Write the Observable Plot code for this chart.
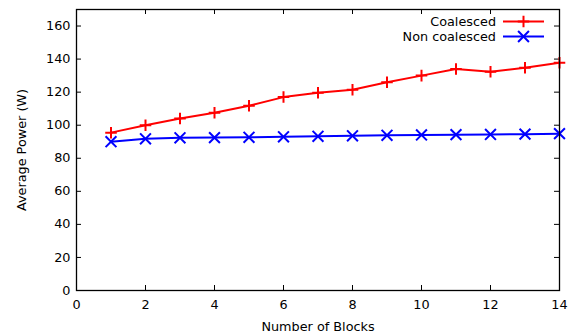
<!DOCTYPE html>
<html>
<head>
<meta charset="utf-8">
<script src="https://cdn.jsdelivr.net/npm/d3@7"></script>
<script src="https://cdn.jsdelivr.net/npm/@observablehq/plot@0.6"></script>
<style>
  html, body { margin: 0; padding: 0; background: #fff; }
  #wrap { position: relative; width: 572px; height: 335px; font-family: "DejaVu Sans", sans-serif; }
  #legend { position: absolute; right: 28px; top: 14px; font-size: 12.8px; line-height: 15px; color: #000; }
  #legend .row { display: flex; justify-content: flex-end; align-items: center; height: 15px; }
  #legend svg { margin-left: 7px; }
</style>
</head>
<body>
<div id="wrap"><div id="legend"></div></div>
<script>
const blocks = [1, 2, 3, 4, 5, 6, 7, 8, 9, 10, 11, 12, 13, 14];
const coalesced = [95.5, 100, 104, 107.5, 111.8, 117, 119.6, 121.5, 126, 130, 134, 132.3, 134.7, 137.8];
const nonCoalesced = [90, 91.8, 92.4, 92.5, 92.7, 93, 93.3, 93.6, 93.9, 94.1, 94.3, 94.4, 94.6, 94.9];
const seriesNames = ["Coalesced", "Non coalesced"];
const seriesColors = ["#ff0000", "#0000ff"];
const seriesSymbols = ["plus", "times"];
const xTicks = [0, 2, 4, 6, 8, 10, 12, 14];
const yTicks = [0, 20, 40, 60, 80, 100, 120, 140, 160];

const rows = [];
blocks.forEach((b, i) => {
  rows.push({series: seriesNames[0], x: b, y: coalesced[i]});
  rows.push({series: seriesNames[1], x: b, y: nonCoalesced[i]});
});

const W = 572, H = 335;
const mL = 76, mR = 13, mT = 9, mB = 45;
const plotW = W - mL - mR, plotH = H - mT - mB;
const tickLen = 5;

const chart = Plot.plot({
  width: W,
  height: H,
  marginLeft: mL,
  marginRight: mR,
  marginTop: mT,
  marginBottom: mB,
  style: {fontFamily: "DejaVu Sans, sans-serif", fontSize: "12.8px", background: "#fff", color: "#000"},
  x: {domain: [0, 14]},
  y: {domain: [0, 170]},
  color: {domain: seriesNames, range: seriesColors},
  symbol: {domain: seriesNames, range: seriesSymbols},
  marks: [
    Plot.axisX({ticks: xTicks, tickSize: 0, tickPadding: 9, label: "Number of Blocks", labelAnchor: "center", labelOffset: 40, labelArrow: "none"}),
    Plot.axisY({ticks: yTicks, tickSize: 0, tickPadding: 6, label: "Average Power (W)", labelAnchor: "center", labelOffset: 60, labelArrow: "none"}),
    Plot.tickX(xTicks, {x: d => d, stroke: "#000", strokeWidth: 1, insetTop: plotH - tickLen}),
    Plot.tickX(xTicks, {x: d => d, stroke: "#000", strokeWidth: 1, insetBottom: plotH - tickLen}),
    Plot.tickY(yTicks, {y: d => d, stroke: "#000", strokeWidth: 1, insetRight: plotW - tickLen}),
    Plot.tickY(yTicks, {y: d => d, stroke: "#000", strokeWidth: 1, insetLeft: plotW - tickLen}),
    Plot.line(rows, {x: "x", y: "y", z: "series", stroke: "series", strokeWidth: 2}),
    Plot.dot(rows.filter(d => d.series === seriesNames[0]), {x: "x", y: "y", symbol: "series", stroke: "series", r: 3.8, strokeWidth: 2}),
    Plot.dot(rows.filter(d => d.series === seriesNames[1]), {x: "x", y: "y", symbol: "series", stroke: "series", r: 5, strokeWidth: 2}),
    Plot.frame({stroke: "#000", strokeWidth: 1.3})
  ]
});
const wrap = document.getElementById("wrap");
wrap.insertBefore(chart, wrap.firstChild);

// legend
const legend = document.getElementById("legend");
seriesNames.forEach((name, i) => {
  const row = document.createElement("div");
  row.className = "row";
  const span = document.createElement("span");
  span.textContent = name;
  row.appendChild(span);
  const svg = d3.create("svg").attr("width", 41).attr("height", 15);
  svg.append("line").attr("x1", 0).attr("x2", 41).attr("y1", 7.5).attr("y2", 7.5)
    .attr("stroke", seriesColors[i]).attr("stroke-width", 2);
  const sym = i === 0 ? d3.symbolPlus : d3.symbolTimes;
  const size = i === 0 ? Math.PI * 3.8 * 3.8 : Math.PI * 25;
  svg.append("path").attr("d", d3.symbol(sym, size)()).attr("transform", "translate(20.5,7.5)")
    .attr("fill", "none").attr("stroke", seriesColors[i]).attr("stroke-width", 2);
  row.appendChild(svg.node());
  legend.appendChild(row);
});
</script>
</body>
</html>
